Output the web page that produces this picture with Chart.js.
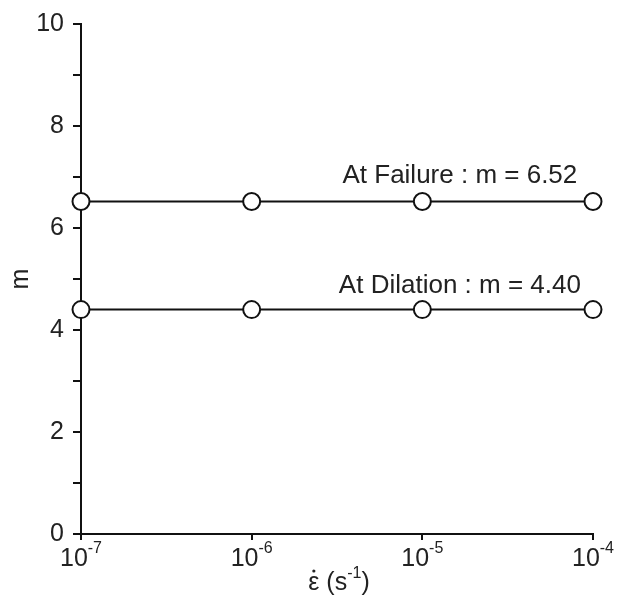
<!DOCTYPE html>
<html>
<head>
<meta charset="utf-8">
<script src="https://cdn.jsdelivr.net/npm/chart.js@4/dist/chart.umd.min.js"></script>
<style>
  body { margin: 0; background: #fff; }
  #chart { display: block; }
</style>
</head>
<body>
<canvas id="chart" width="618" height="603"></canvas>
<script>
// strain rates (s^-1) and m values
const strainRates = [1e-7, 1e-6, 1e-5, 1e-4];
const mFailure = [6.52, 6.52, 6.52, 6.52];
const mDilation = [4.40, 4.40, 4.40, 4.40];
const seriesNames = ['At Failure', 'At Dilation'];

const xTickValues = [1e-7, 1e-6, 1e-5, 1e-4];
const xTickExponents = ['-7', '-6', '-5', '-4'];
const yTickLabels = [0, 2, 4, 6, 8, 10];

const FONT = '"Liberation Sans", Arial, sans-serif';
const BIG = 25, SMALL = 16;

function toPoints(xs, ys) {
    return xs.map((x, i) => ({ x: x, y: ys[i] }));
}

// draws x tick labels as 10^n, the x title and the series labels
const textPlugin = {
    id: 'textPlugin',
    afterDraw(chart) {
        const ctx = chart.ctx;
        const xs = chart.scales.x;
        const ys = chart.scales.y;
        ctx.save();
        ctx.fillStyle = '#222';
        ctx.textBaseline = 'alphabetic';
        ctx.textAlign = 'left';

        // x tick labels
        xTickValues.forEach((v, i) => {
            const px = xs.getPixelForValue(v);
            ctx.font = BIG + 'px ' + FONT;
            const w1 = ctx.measureText('10').width;
            ctx.font = SMALL + 'px ' + FONT;
            const w2 = ctx.measureText(xTickExponents[i]).width;
            const start = px - (w1 + w2) / 2;
            ctx.font = BIG + 'px ' + FONT;
            ctx.fillText('10', start, ys.bottom + 32);
            ctx.font = SMALL + 'px ' + FONT;
            ctx.fillText(xTickExponents[i], start + w1, ys.bottom + 19);
        });

        // x title: strain rate
        const cx = (xs.left + xs.right) / 2 + 2;
        const by = ys.bottom + 56;
        const parts = [['ε', BIG, 0], [' (s', BIG, 0], ['-1', SMALL, -12], [')', BIG, 0]];
        let total = 0;
        parts.forEach(p => { ctx.font = p[1] + 'px ' + FONT; total += ctx.measureText(p[0]).width; });
        let x = cx - total / 2;
        parts.forEach((p, i) => {
            ctx.font = p[1] + 'px ' + FONT;
            ctx.fillText(p[0], x, by + p[2]);
            const w = ctx.measureText(p[0]).width;
            if (i === 0) {
                ctx.beginPath();
                ctx.arc(x + w / 2, by - 19, 1.6, 0, Math.PI * 2);
                ctx.fill();
            }
            x += w;
        });

        // series labels
        ctx.font = '26px ' + FONT;
        ctx.textAlign = 'center';
        const lx = xs.getPixelForValue(Math.pow(10, -4.78));
        ctx.fillText(seriesNames[0] + ' : m = ' + mFailure[0].toFixed(2), lx, ys.getPixelForValue(mFailure[0]) - 18);
        ctx.fillText(seriesNames[1] + ' : m = ' + mDilation[0].toFixed(2), lx, ys.getPixelForValue(mDilation[0]) - 17);
        ctx.restore();
    }
};

const pointStyle = {
    borderColor: '#111',
    borderWidth: 2,
    pointRadius: 8.5,
    pointBackgroundColor: '#fff',
    pointBorderColor: '#111',
    pointBorderWidth: 2,
    showLine: true,
    fill: false,
    clip: false
};

new Chart(document.getElementById('chart'), {
    type: 'scatter',
    data: {
        datasets: [
            Object.assign({ label: seriesNames[0], data: toPoints(strainRates, mFailure) }, pointStyle),
            Object.assign({ label: seriesNames[1], data: toPoints(strainRates, mDilation) }, pointStyle)
        ]
    },
    options: {
        responsive: false,
        animation: false,
        layout: { padding: { top: 22, right: 25, left: 0, bottom: 0 } },
        plugins: { legend: { display: false }, tooltip: { enabled: false } },
        scales: {
            x: {
                type: 'logarithmic',
                min: 1e-7,
                max: 1e-4,
                afterBuildTicks: scale => { scale.ticks = xTickValues.map(v => ({ value: v })); },
                afterFit: scale => { scale.height = 69; },
                ticks: { callback: () => '' },
                grid: { drawOnChartArea: false, drawTicks: true, tickLength: 6, color: '#111', lineWidth: 2 },
                border: { display: true, color: '#111', width: 2 }
            },
            y: {
                min: 0,
                max: 10,
                afterFit: scale => { scale.width = 81; },
                ticks: {
                    stepSize: 0.5,
                    padding: 9,
                    color: '#222',
                    font: { size: BIG, family: FONT },
                    callback: v => yTickLabels.includes(v) ? v : ''
                },
                title: { display: true, text: 'm', color: '#222', font: { size: BIG, family: FONT }, padding: { top: 6, bottom: 0 } },
                grid: { drawOnChartArea: false, drawTicks: true, tickLength: 8, color: '#111', lineWidth: 2 },
                border: { display: true, color: '#111', width: 2 }
            }
        }
    },
    plugins: [textPlugin]
});
</script>
</body>
</html>
